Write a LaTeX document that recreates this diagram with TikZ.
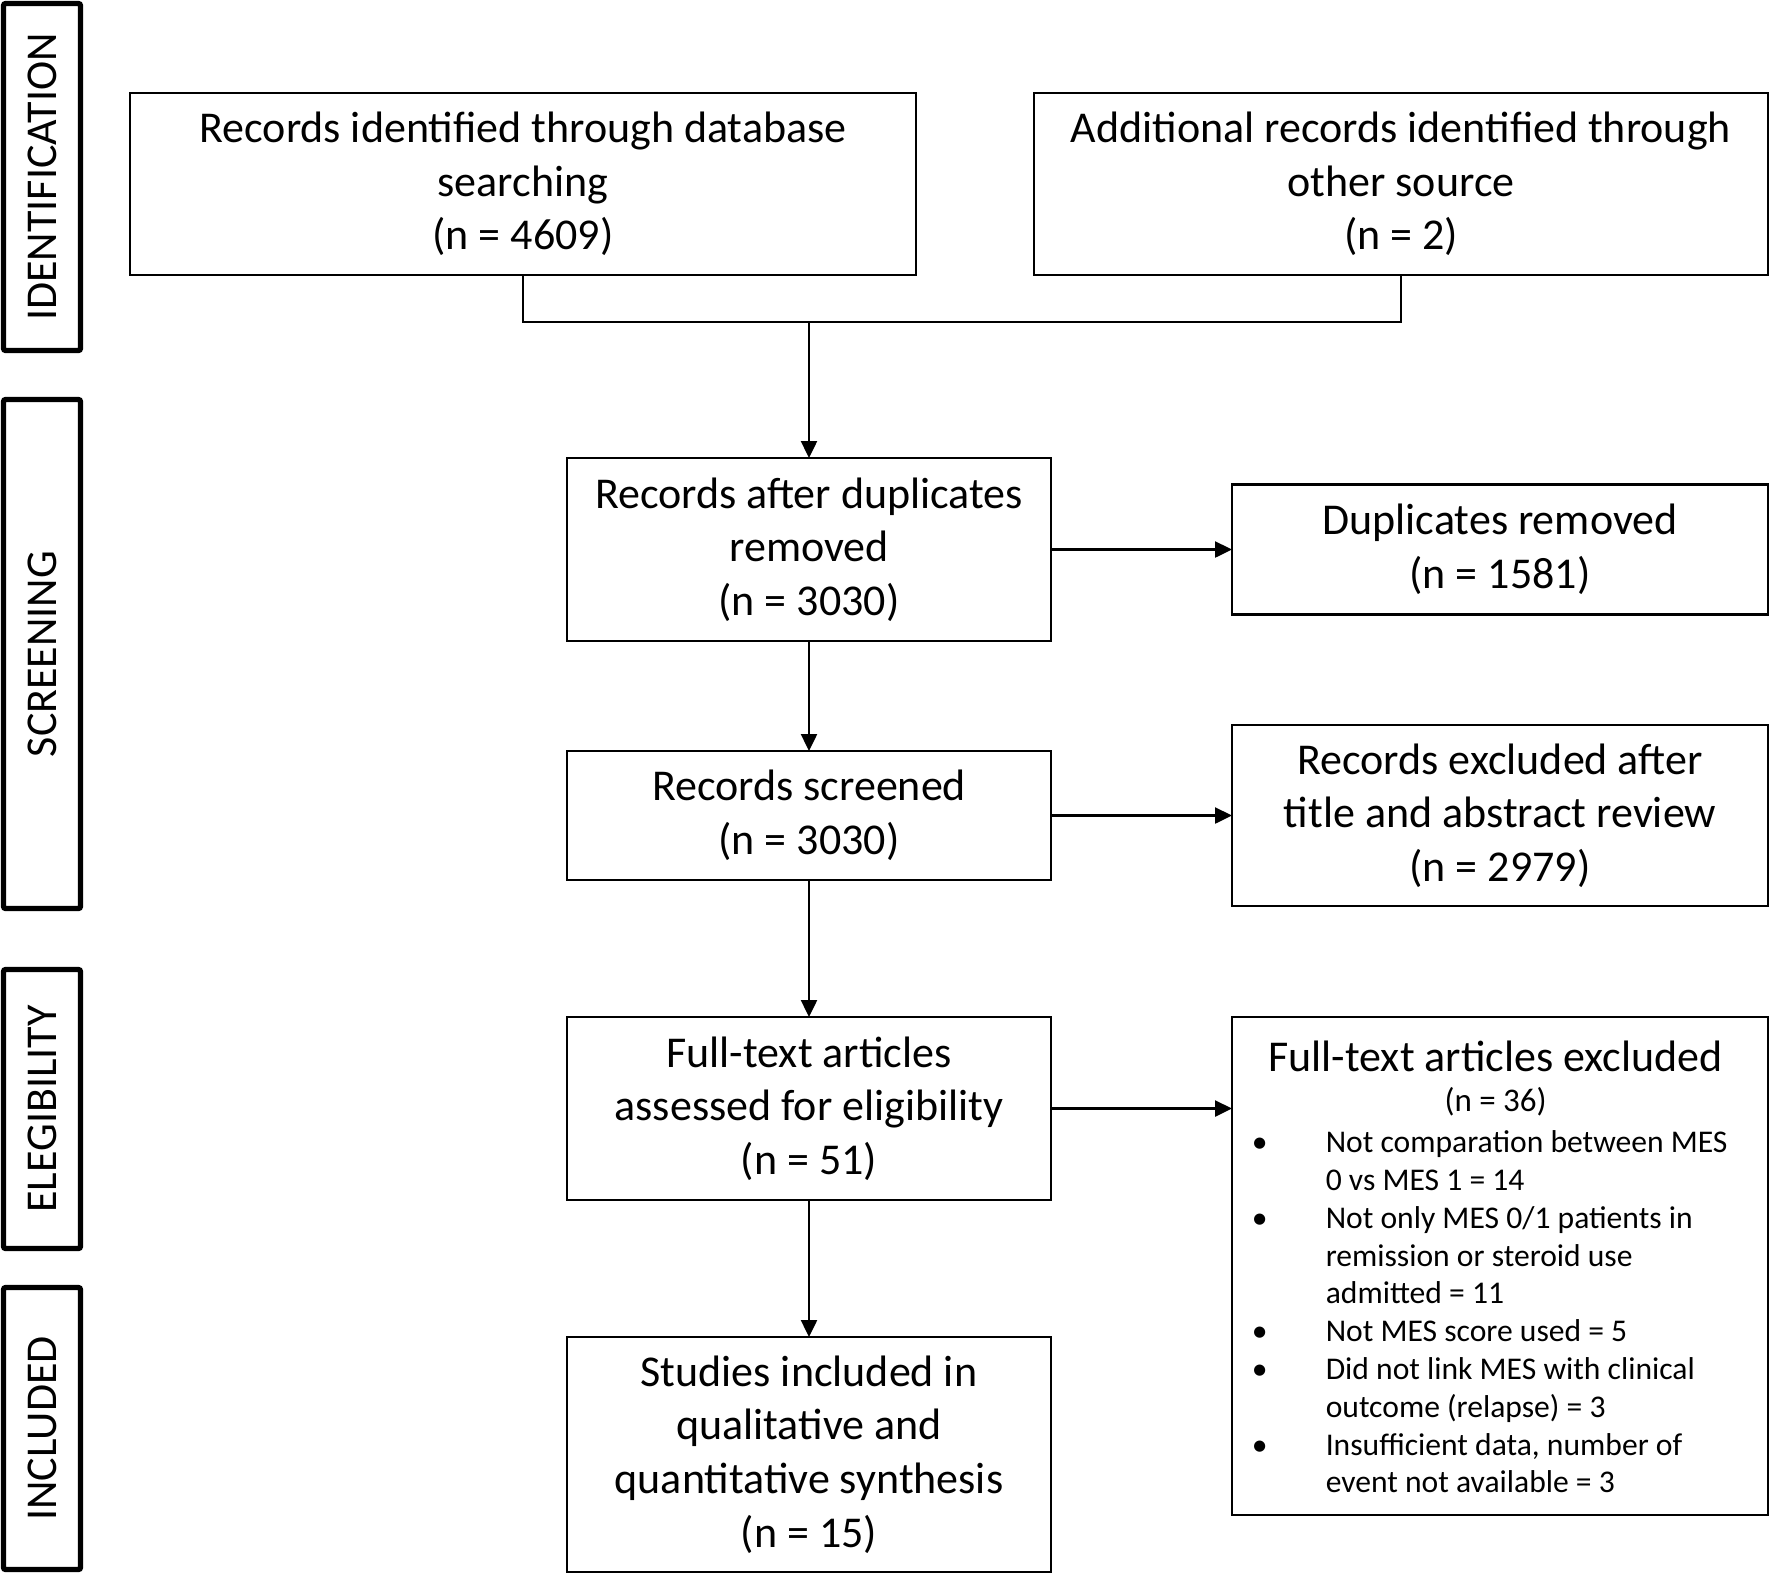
\documentclass[tikz,border=0pt]{standalone}
\usepackage{fontspec}
\usepackage{array}
\setmainfont{Carlito}
\usetikzlibrary{arrows.meta,positioning}

\newcommand{\listfont}{\fontsize{15.8}{18.9}\selectfont}

\begin{document}
\begin{tikzpicture}[x=1pt, y=1pt, font=\fontsize{22}{26.8}\selectfont]
    % Define styles
    \tikzstyle{stage} = [rectangle, rounded corners=1pt, line width=2.6pt, draw=black, rotate=90, minimum height=38.5pt, inner sep=0pt]
    \tikzstyle{process} = [rectangle, line width=1.2pt, draw=black, align=center, inner sep=0pt, outer sep=0pt]
    \tikzstyle{line} = [line width=1.2pt]
    \tikzstyle{arrow} = [line width=1.2pt, -{Triangle[length=8.5pt, width=8pt]}]

    \useasboundingbox (0,0) rectangle (885,-788);

    % Stages
    \node [stage, minimum width=173.5pt] (ident) at (21,-88.5) {IDENTIFICATION};
    \node [stage, minimum width=254.5pt] (screen) at (21,-327) {SCREENING};
    \node [stage, minimum width=139.5pt] (elig) at (21,-554.5) {ELEGIBILITY};
    \node [stage, minimum width=141pt] (incl) at (21,-714.25) {INCLUDED};

    % Nodes
    \node [process, minimum width=393pt, minimum height=91pt] (records) at (261.5,-92) {Records identified through database\\searching\\(n = 4609)};
    \node [process, minimum width=367pt, minimum height=91pt] (other) at (700.5,-92) {Additional records identified through\\other source\\(n = 2)};
    \node [process, minimum width=242pt, minimum height=91.5pt] (dedup) at (404.5,-274.75) {Records after duplicates\\removed\\(n = 3030)};
    \node [process, minimum width=268pt, minimum height=65pt, right=90.5pt of dedup] (dupl) {Duplicates removed\\(n = 1581)};
    \node [process, minimum width=242pt, minimum height=64.5pt, below=55pt of dedup] (screened) {Records screened\\(n = 3030)};
    \node [process, minimum width=268pt, minimum height=90.5pt, right=90.5pt of screened] (exclta) {Records excluded after\\title and abstract review\\(n = 2979)};
    \node [process, minimum width=242pt, minimum height=91.5pt, below=68.5pt of screened] (fulltext) {Full-text articles\\assessed for eligibility\\(n = 51)};
    \node [process, font=\listfont, minimum width=268pt, minimum height=249pt, below right=0pt and 90.5pt of fulltext.north east] (exclft) {%
        \begin{tabular}{@{}p{37pt}@{}l@{\hspace{10.4pt}}}
        \multicolumn{2}{@{}c@{\hspace{4.4pt}}}{\rule{0pt}{22pt}\fontsize{22}{26.8}\selectfont Full-text articles excluded}\\[1.1pt]
        \multicolumn{2}{@{}c@{\hspace{4.4pt}}}{\fontsize{16.5}{18.9}\selectfont (n = 36)}\\[1.6pt]
        • & Not comparation between MES\\
          & 0 vs MES 1 = 14\\
        • & Not only MES 0/1 patients in\\
          & remission or steroid use\\
          & admitted = 11\\
        • & Not MES score used = 5\\
        • & Did not link MES with clinical\\
          & outcome (relapse) = 3\\
        • & Insufficient data, number of\\
          & event not available = 3
        \end{tabular}};
    \node [process, minimum width=242pt, minimum height=117.5pt, below=68.5pt of fulltext] (included) {Studies included in\\qualitative and\\quantitative synthesis\\(n = 15)};

    % Arrows
    \coordinate (join) at (dedup.north |- 0,-161);
    \draw [line] (records.south) |- (join) -| (other.south);
    \draw [arrow] (join) -- (dedup.north);
    \draw [arrow] (dedup) -- (dupl);
    \draw [arrow] (dedup) -- (screened);
    \draw [arrow] (screened) -- (exclta);
    \draw [arrow] (screened) -- (fulltext);
    \draw [arrow] (fulltext.east) -- (fulltext.east -| exclft.west);
    \draw [arrow] (fulltext) -- (included);
\end{tikzpicture}
\end{document}
